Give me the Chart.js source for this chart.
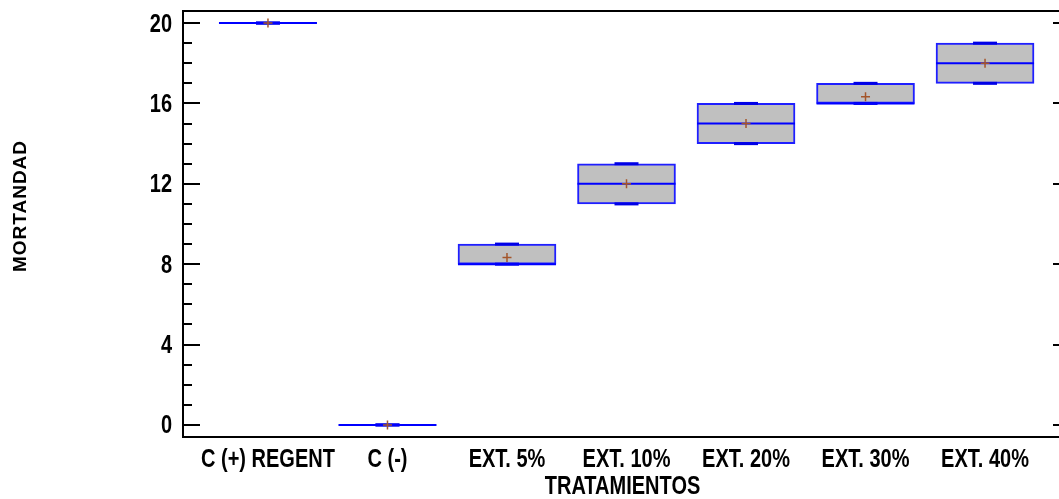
<!DOCTYPE html>
<html>
<head>
<meta charset="utf-8">
<script src="https://cdn.jsdelivr.net/npm/chart.js@4.4.0/dist/chart.umd.min.js"></script>
<style>
  html, body { margin: 0; padding: 0; background: #fff; overflow: hidden; }
  #wrap { position: relative; width: 1080px; height: 499px; }
</style>
</head>
<body>
<div id="wrap"><canvas id="c" width="1080" height="499"></canvas></div>
<script>
// Box-and-whisker summary per treatment
const categories   = ['C (+) REGENT', 'C (-)', 'EXT. 5%', 'EXT. 10%', 'EXT. 20%', 'EXT. 30%', 'EXT. 40%'];
const minValues    = [20, 0, 8, 11, 14, 16, 17];
const q1Values     = [20, 0, 8, 11, 14, 16, 17];
const medianValues = [20, 0, 8, 12, 15, 16, 18];
const q3Values     = [20, 0, 9, 13, 16, 17, 19];
const maxValues    = [20, 0, 9, 13, 16, 17, 19];
const meanValues   = [20, 0, 8.33, 12, 15, 16.33, 18];
const yTickValues  = [0, 1, 2, 3, 4, 5, 6, 7, 8, 9, 10, 11, 12, 13, 14, 15, 16, 17, 18, 19, 20];
const yLabelEvery  = 4;

const xTitle = 'TRATAMIENTOS';
const yTitle = 'MORTANDAD';

const baseFont = "'Liberation Sans', Arial, sans-serif";
const labelSize = 25;     // px
const condense = 0.8;     // horizontal squeeze for the narrow label face

const boxData    = categories.map((c, i) => ({ x: i, y: [q1Values[i], q3Values[i]] }));
const capData    = categories.flatMap((c, i) => [{ x: i, y: minValues[i] }, { x: i, y: maxValues[i] }]);
const medianData = categories.map((c, i) => ({ x: i, y: medianValues[i] }));
const meanData   = categories.map((c, i) => ({ x: i, y: meanValues[i] }));

// Draws condensed bold text; align is 'left' | 'center' | 'right'
function narrowText(ctx, text, x, y, align) {
  ctx.save();
  ctx.font = 'bold ' + labelSize + 'px ' + baseFont;
  ctx.textBaseline = 'alphabetic';
  ctx.textAlign = align;
  ctx.translate(x, y);
  ctx.scale(condense, 1);
  ctx.fillText(text, 0, 0);
  ctx.restore();
}

// Frame, inward tick marks, tick labels and axis titles
const framePlugin = {
  id: 'frame',
  afterDraw(chart) {
    const { ctx, chartArea: a, scales: { x, y } } = chart;
    ctx.save();
    ctx.strokeStyle = '#000';
    ctx.fillStyle = '#000';
    ctx.lineWidth = 2;
    ctx.strokeRect(a.left, a.top, a.right - a.left, a.bottom - a.top);
    ctx.beginPath();
    y.ticks.forEach(t => {
      const py = Math.round(y.getPixelForValue(t.value));
      const len = t.value % yLabelEvery === 0 ? 17 : 9;
      ctx.moveTo(a.left, py); ctx.lineTo(a.left + len, py);
      ctx.moveTo(a.right, py); ctx.lineTo(a.right - len, py);
    });
    ctx.stroke();

    // value-axis labels
    y.ticks.forEach(t => {
      if (t.value % yLabelEvery !== 0) return;
      const py = y.getPixelForValue(t.value);
      narrowText(ctx, String(t.value), a.left - 11, py + 8.5, 'right');
    });
    // category labels
    x.ticks.forEach(t => {
      const px = x.getPixelForValue(t.value);
      narrowText(ctx, categories[t.value], px, a.bottom + 30, 'center');
    });
    narrowText(ctx, xTitle, (a.left + a.right) / 2 - 4, a.bottom + 57, 'center');

    ctx.translate(26, 206);
    ctx.rotate(-Math.PI / 2);
    ctx.font = 'bold 19px ' + baseFont;
    if ('letterSpacing' in ctx) ctx.letterSpacing = '1px';
    ctx.textAlign = 'center';
    ctx.textBaseline = 'alphabetic';
    ctx.fillText(yTitle, 0, 0);
    ctx.restore();
  }
};

new Chart(document.getElementById('c'), {
  type: 'bar',
  data: {
    datasets: [
      {
        type: 'scatter', label: 'mean', data: meanData, order: 1,
        pointStyle: 'cross', pointRadius: 4.5, pointHoverRadius: 4.5,
        borderColor: '#a4552a', backgroundColor: '#a4552a', borderWidth: 1.5
      },
      {
        type: 'scatter', label: 'median', data: medianData, order: 2,
        pointStyle: 'line', pointRadius: 49, pointHoverRadius: 49,
        borderColor: '#0000ff', backgroundColor: '#0000ff', borderWidth: 2
      },
      {
        type: 'scatter', label: 'whisker', data: capData, order: 3,
        pointStyle: 'line', pointRadius: 12, pointHoverRadius: 12,
        borderColor: '#0000e6', backgroundColor: '#0000e6', borderWidth: 3
      },
      {
        type: 'bar', label: 'box', data: boxData, order: 4,
        backgroundColor: '#c0c0c0', borderColor: '#1f1fff', borderWidth: 2,
        borderSkipped: false, barThickness: 98
      }
    ]
  },
  options: {
    responsive: false,
    animation: false,
    devicePixelRatio: 1,
    layout: { autoPadding: false, padding: { top: 11, right: 10, left: 0, bottom: 0 } },
    plugins: { legend: { display: false }, tooltip: { enabled: false } },
    scales: {
      x: {
        type: 'linear', min: -0.711, max: 6.711, offset: false,
        grid: { display: false, drawTicks: false },
        border: { display: true, color: '#000', width: 2 },
        afterBuildTicks: s => { s.ticks = categories.map((c, i) => ({ value: i })); },
        afterFit: s => { s.height = 62; },
        ticks: { display: false }
      },
      y: {
        type: 'linear', min: -0.6, max: 20.6,
        grid: { display: false, drawTicks: false },
        border: { display: true, color: '#000', width: 2 },
        afterBuildTicks: s => { s.ticks = yTickValues.map(v => ({ value: v })); },
        afterFit: s => { s.width = 183; },
        ticks: { display: false }
      }
    }
  },
  plugins: [framePlugin]
});
</script>
</body>
</html>
